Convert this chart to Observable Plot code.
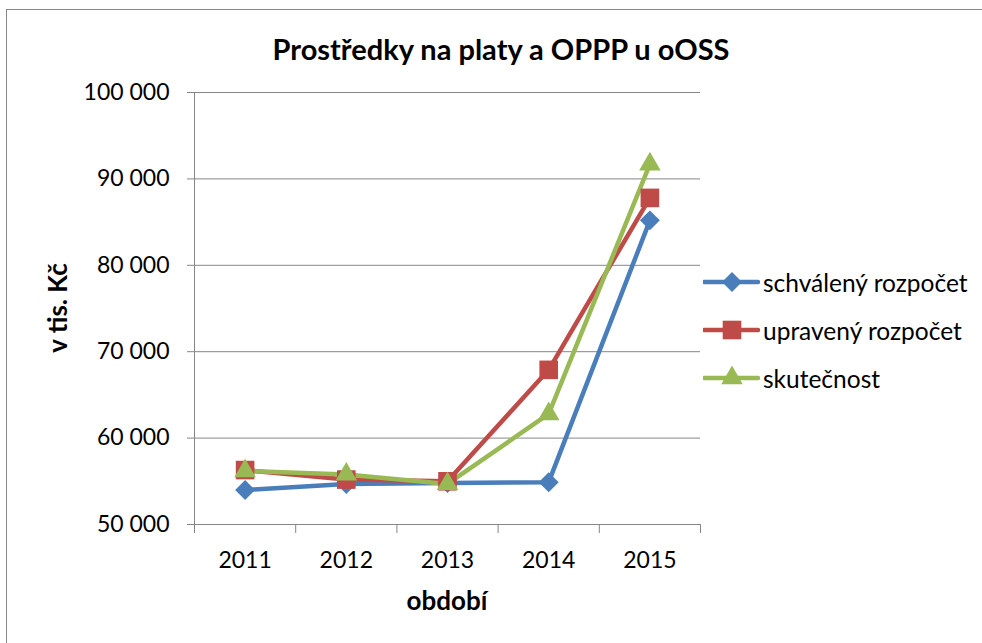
<!DOCTYPE html>
<html>
<head>
<meta charset="utf-8">
<script src="https://cdn.jsdelivr.net/npm/d3@7"></script>
<script src="https://cdn.jsdelivr.net/npm/@observablehq/plot@0.6"></script>
<style>
  body { margin: 0; background: #fff; }
  #wrap { position: relative; width: 982px; height: 643px; overflow: hidden; font-family: Lato, "Open Sans", sans-serif; color: #000; background: #fff; }
  #border { position: absolute; left: 6px; top: 9px; width: 1100px; height: 800px; border-left: 1px solid #888; border-top: 1px solid #888; }
  #chart { position: absolute; left: 0; top: 0; }
  #title { position: absolute; left: 501px; top: 48px; transform: translate(-50%, -50%); font-weight: bold; font-size: 29px; white-space: nowrap; line-height: 1; }
  #xlabel { position: absolute; left: 447px; top: 600px; transform: translate(-50%, -50%); font-weight: bold; font-size: 26px; line-height: 1; white-space: nowrap; }
  #ylabel { position: absolute; left: 57px; top: 308px; transform: translate(-50%, -50%) rotate(-90deg); font-weight: bold; font-size: 26px; line-height: 1; white-space: nowrap; }
  #legend { position: absolute; left: 703px; top: 258px; }
  .row { display: flex; align-items: center; height: 48px; font-size: 24.5px; white-space: nowrap; }
  .row svg { margin-right: 3px; }
</style>
</head>
<body>
<div id="wrap">
  <div id="border"></div>
  <div id="chart"></div>
  <div id="title">Prostředky na platy a OPPP u oOSS</div>
  <div id="xlabel">období</div>
  <div id="ylabel">v tis. Kč</div>
  <div id="legend"></div>
</div>
<script>
// ---- data ----
const years = [2011, 2012, 2013, 2014, 2015];
const schvaleny = [54000, 54700, 54800, 54900, 85200];
const upraveny  = [56300, 55200, 55000, 67900, 87800];
const skutecnost = [56200, 55800, 54700, 62800, 91700];
const seriesNames = ["schválený rozpočet", "upravený rozpočet", "skutečnost"];
const seriesValues = [schvaleny, upraveny, skutecnost];
const seriesColors = ["#4A7EBB", "#BE4B48", "#98B954"];
const seriesSymbols = ["diamond2", "square", "triangle"];
const seriesR = [9, 10.5, 8];
const yTicks = [50000, 60000, 70000, 80000, 90000, 100000];
const xBounds = [2010.5, 2011.5, 2012.5, 2013.5, 2014.5, 2015.5];

const fmt = d => d3.format(",")(d).replace(/,/g, " ");
const grid = "#868686";

const marks = [
  Plot.gridY(yTicks, {stroke: grid, strokeOpacity: 1}),
  Plot.ruleX([xBounds[0]], {stroke: grid}),
  Plot.ruleY([yTicks[0]], {stroke: grid}),
  Plot.axisY(yTicks, {tickSize: 7, tickPadding: 18, tickFormat: fmt, stroke: grid, fill: "#000", label: null}),
  Plot.axisX(xBounds, {tickSize: 9, tickFormat: () => "", stroke: grid, label: null}),
  Plot.axisX(years, {tickSize: 0, tickPadding: 27, tickFormat: "d", fill: "#000", label: null})
];

seriesNames.forEach((name, s) => {
  const rows = years.map((yr, i) => ({year: yr, value: seriesValues[s][i], series: name}));
  marks.push(Plot.line(rows, {x: "year", y: "value", stroke: seriesColors[s], strokeWidth: 4.5}));
});
seriesNames.forEach((name, s) => {
  const rows = years.map((yr, i) => ({year: yr, value: seriesValues[s][i], series: name}));
  marks.push(Plot.dot(rows, {x: "year", y: "value", symbol: seriesSymbols[s], r: seriesR[s], fill: seriesColors[s], stroke: "none"}));
});

const chart = Plot.plot({
  width: 982,
  height: 643,
  marginLeft: 194,
  marginRight: 282,
  marginTop: 92,
  marginBottom: 119,
  style: {fontFamily: "Lato, 'Open Sans', sans-serif", fontSize: "23px", color: "#000", background: "transparent"},
  x: {type: "linear", domain: [xBounds[0], xBounds[xBounds.length - 1]]},
  y: {domain: [yTicks[0], yTicks[yTicks.length - 1]]},
  marks
});
document.getElementById("chart").appendChild(chart);

// legend
const legend = document.getElementById("legend");
const symMap = {diamond2: d3.symbolDiamond2, square: d3.symbolSquare, triangle: d3.symbolTriangle};
seriesNames.forEach((name, s) => {
  const row = document.createElement("div");
  row.className = "row";
  const svg = d3.create("svg").attr("width", 57).attr("height", 24);
  svg.append("line").attr("x1", 1).attr("x2", 55).attr("y1", 12).attr("y2", 12)
    .attr("stroke", seriesColors[s]).attr("stroke-width", 4.5).attr("stroke-linecap", "round");
  svg.append("path").attr("transform", "translate(29,12)")
    .attr("d", d3.symbol(symMap[seriesSymbols[s]], Math.PI * seriesR[s] * seriesR[s])())
    .attr("fill", seriesColors[s]);
  row.appendChild(svg.node());
  const span = document.createElement("span");
  span.textContent = name;
  row.appendChild(span);
  legend.appendChild(row);
});
</script>
</body>
</html>
